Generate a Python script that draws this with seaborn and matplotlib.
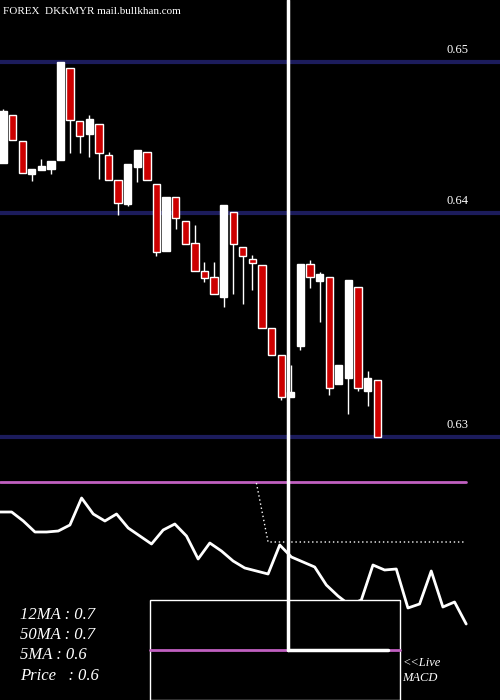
import matplotlib
matplotlib.use("Agg")
import matplotlib.pyplot as plt
import matplotlib.patches as mpatches
import seaborn as sns
import pandas as pd
import numpy as np

# candle OHLC
opens = [.64332,.64649,.64477,.64259,.64285,.64292,.64351,.64961,.64610,.64524,
         .64590,.64385,.64219,.64061,.64305,.64404,.64193,.63749,.64106,.63948,
         .63802,.63617,.63577,.63445,.64008,.63776,.63696,.63657,.63240,.63061,
         .62783,.63120,.63663,.63551,.63577,.62869,.62909,.63511,.62823,.62895]
closes = [.64676,.64484,.64265,.64292,.64312,.64345,.65001,.64616,.64510,.64623,
          .64398,.64219,.64067,.64325,.64418,.64219,.63743,.64106,.63967,.63796,
          .63617,.63571,.63465,.64054,.63796,.63716,.63670,.63240,.63061,.62783,
          .62816,.63663,.63577,.63597,.62842,.62995,.63557,.62842,.62909,.62518]
highs = [.64689,.64649,.64477,.64292,.64358,.64345,.65001,.64961,.64610,.64649,
         .64590,.64404,.64219,.64325,.64418,.64404,.64193,.64106,.64106,.63948,
         .63921,.63677,.63677,.64054,.64008,.63776,.63723,.63657,.63240,.63061,
         .62995,.63663,.63690,.63610,.63577,.62995,.63557,.63511,.62955,.62895]
lows = [.64332,.64484,.64265,.64212,.64285,.64259,.64351,.64398,.64398,.64371,
        .64226,.64219,.63988,.64047,.64206,.64219,.63716,.63749,.63895,.63796,
        .63617,.63544,.63465,.63379,.63465,.63399,.63491,.63240,.63061,.62763,
        .62783,.63094,.63504,.63279,.62796,.62869,.62670,.62823,.62723,.62518]
grid_levels = [0.65001, 0.64001, 0.62518]
grid_labels = ["0.65", "0.64", "0.63"]

macd = [1.08,1.08,0.99,0.88,0.88,0.89,0.95,1.22,1.06,0.99,1.06,0.92,0.84,0.76,0.90,
        0.96,0.84,0.61,0.77,0.69,0.59,0.52,0.49,0.46,0.75,0.63,0.58,0.53,0.35,0.24,
        0.15,0.20,0.55,0.50,0.51,0.12,0.16,0.49,0.13,0.18,-0.04]
signal_x = [22.0, 23.0, 40.0]
signal_y = [1.37, 0.78, 0.78]
zero_level = 1.38
hist_level = -0.3
labels = ["12MA : 0.7", "50MA : 0.7", "5MA : 0.6", "Price   : 0.6"]

sns.set_style("dark", {"axes.facecolor": "black", "figure.facecolor": "black"})
SERIF = ["Liberation Serif", "DejaVu Serif"]

fig = plt.figure(figsize=(5, 7), dpi=100)
fig.patch.set_facecolor("black")
ax = fig.add_axes([0, 230/700, 1, 470/700])
ax2 = fig.add_axes([0, 0, 1, 230/700])
for a in (ax, ax2):
    a.set_facecolor("black")
    a.set_axis_off()

ax.set_xlim(-0.31, 51.8)
ax.set_ylim(0.65411 - 470/15100, 0.65411)
for lv, lb in zip(grid_levels, grid_labels):
    ax.axhline(lv, color="#1c1c5c", lw=3, zorder=1)
    ax.text(46.2, lv + 0.0004, lb, color="white", fontsize=9, ha="left",
            va="bottom", family=SERIF)

for i, (o, h, l, c) in enumerate(zip(opens, highs, lows, closes)):
    up = c >= o
    ax.vlines(i, l, h, color="white", lw=1, zorder=2)
    lo, hi = min(o, c), max(o, c)
    col = "white" if up else "#cc0000"
    ax.add_patch(mpatches.Rectangle((i - 0.38, lo), 0.76, max(hi - lo, 0.00003),
                                    facecolor=col, edgecolor="white", lw=1, zorder=3))
ax.axvline(29.7, color="white", lw=2.5, zorder=4)
ax.text(0.0, 0.65411 - 11/15100, "FOREX  DKKMYR mail.bullkhan.com", color="white",
        fontsize=8, va="center", ha="left", family=SERIF)

# lower panel
ax2.set_xlim(0, 42.9)
ax2.set_ylim(-0.8, 1.5)
df = pd.DataFrame({"i": np.arange(len(macd)), "macd": macd})
ax2.plot([0, 40], [zero_level, zero_level], color="#c060c0", lw=2, zorder=2)
sns.lineplot(data=df, x="i", y="macd", ax=ax2, color="white", lw=2, zorder=2)
ax2.plot(signal_x, signal_y, color="white", lw=1, ls=(0, (1, 2)), zorder=2)
ax2.add_patch(mpatches.Rectangle((12.9, -0.8), 21.4, 1.0, facecolor="black",
                                 edgecolor="white", lw=1, zorder=3))
ax2.plot([12.9, 34.3], [hist_level, hist_level], color="#c060c0", lw=2, zorder=4)
ax2.plot([24.7, 33.3], [hist_level, hist_level], color="white", lw=2.5, zorder=5)
ax2.plot([24.7, 24.7], [1.5, hist_level], color="white", lw=2.5, zorder=5)
ax2.set_xlabel(""); ax2.set_ylabel("")
ys = [0.05, -0.15, -0.35, -0.56]
for t, yv in zip(labels, ys):
    ax2.text(1.7, yv, t, color="white", fontsize=12, family=SERIF,
             style="italic", va="center")
ax2.text(34.5, -0.43, "<<Live", color="white", fontsize=9, family=SERIF,
         style="italic", va="center")
ax2.text(34.5, -0.58, "MACD", color="white", fontsize=9, family=SERIF,
         style="italic", va="center")

fig.savefig("out.png", dpi=100, facecolor="black")
